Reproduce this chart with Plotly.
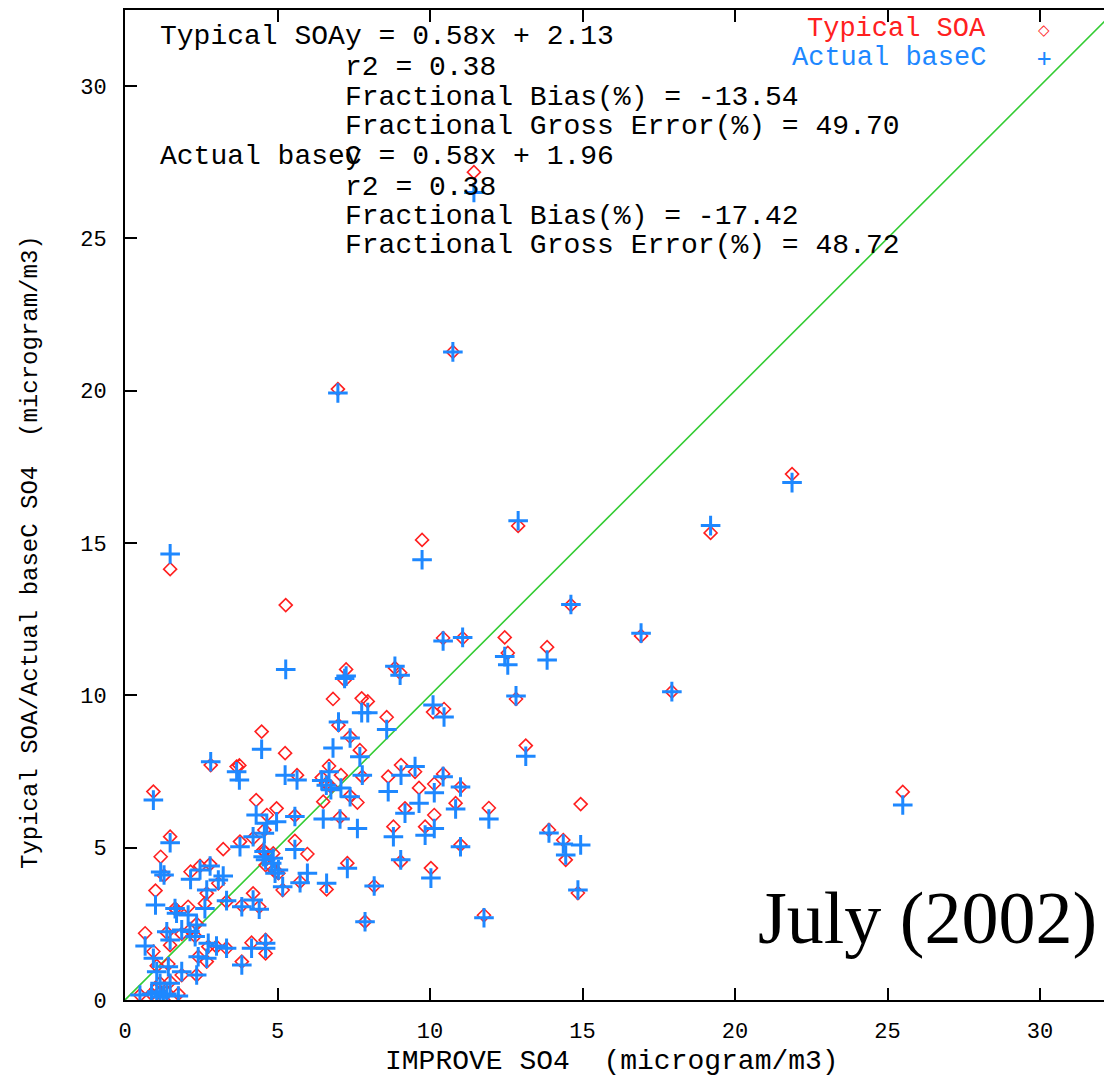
import plotly.graph_objects as go

# IMPROVE SO4 (x) and model values (Typical SOA = red, Actual baseC = blue)
improve_so4 = [11.44, 10.75, 6.98, 1.48, 5.27, 9.74, 12.89, 14.62, 10.43, 11.07,
               12.45, 12.55, 13.84, 21.87, 19.20, 16.92, 17.93, 25.50, 12.82, 13.14,
               10.43, 11.00, 10.14, 10.84, 11.93, 10.14, 11.00, 10.03, 11.77, 14.94,
               14.85, 13.90, 14.37, 14.45, 7.25, 7.20, 8.85, 9.02, 6.82, 7.76,
               7.96, 8.58, 10.10, 10.46, 5.25, 5.64, 7.70, 7.00, 7.38, 6.69,
               7.08, 7.78, 8.63, 9.05, 9.51, 9.64, 6.50, 7.62, 7.38, 7.05,
               5.57, 4.97, 9.18, 8.80, 9.84, 0.93, 2.81, 3.66, 3.75, 4.48,
               4.30, 4.65, 1.48, 4.20, 3.77, 3.22, 1.17, 1.28, 2.15, 2.46,
               2.79, 3.06, 4.56, 4.86, 4.61, 4.92, 5.17, 1.00, 2.68, 2.62,
               1.69, 2.07, 2.35, 3.33, 3.83, 4.20, 4.40, 0.66, 1.37, 1.48,
               1.86, 2.30, 2.73, 3.00, 3.33, 2.68, 2.40, 2.35, 4.15, 4.61,
               4.61, 3.83, 0.93, 1.04, 1.42, 1.86, 1.48, 1.15, 0.49, 0.87,
               1.04, 1.26, 1.37, 1.75, 1.15, 5.57, 5.98, 5.74, 6.61, 7.29,
               8.17, 7.87, 9.04, 5.03, 4.53, 4.81, 4.57, 6.45, 6.60, 6.75,
               1.64, 2.13]

typical_soa = [27.17, 21.27, 20.05, 14.14, 12.96, 15.10, 15.56, 12.96, 11.88, 11.88,
               11.90, 11.39, 11.58, 17.26, 15.33, 11.95, 10.12, 6.83, 9.88, 8.35,
               7.42, 6.99, 7.09, 6.46, 6.30, 6.07, 5.09, 4.33, 2.78, 6.43,
               3.51, 5.58, 5.25, 4.60, 10.85, 10.50, 10.90, 10.74, 9.88, 9.90,
               9.80, 9.28, 9.45, 9.55, 8.10, 7.38, 8.20, 9.02, 8.64, 7.68,
               7.38, 7.33, 7.33, 7.71, 7.49, 6.96, 6.51, 6.48, 6.70, 6.00,
               6.05, 6.29, 6.29, 5.69, 5.69, 6.84, 7.71, 7.66, 7.70, 8.81,
               6.56, 6.07, 5.36, 5.31, 5.20, 4.95, 4.70, 4.08, 4.21, 4.40,
               4.46, 3.83, 4.87, 4.81, 4.43, 4.21, 3.61, 3.59, 3.50, 3.17,
               2.95, 3.06, 2.50, 3.23, 3.10, 3.50, 3.06, 2.19, 2.21, 1.80,
               2.17, 2.10, 1.75, 1.75, 1.70, 1.26, 1.42, 0.82, 1.88, 1.97,
               1.53, 1.26, 1.59, 1.12, 1.18, 0.82, 0.60, 0.55, 0.16, 0.20,
               0.38, 0.00, 0.25, 0.20, 0.27, 5.22, 4.79, 3.88, 3.63, 4.49,
               3.74, 2.57, 4.54, 4.16, 4.92, 4.37, 5.58, 7.30, 7.10, 7.00,
               3.00, 2.30]

actual_basec = [26.50, 21.27, 19.92, 14.64, 10.85, 14.45, 15.73, 12.98, 11.78, 11.90,
                11.27, 11.00, 11.16, 16.98, 15.57, 12.04, 10.12, 6.40, 9.98, 8.00,
                7.33, 6.99, 6.80, 6.27, 5.94, 5.63, 5.03, 4.00, 2.70, 5.09,
                3.61, 5.48, 5.12, 4.76, 10.63, 10.55, 10.95, 10.66, 8.27, 9.43,
                9.43, 8.88, 9.68, 9.29, 7.38, 7.22, 7.98, 9.12, 8.60, 7.49,
                6.96, 7.38, 6.84, 7.38, 7.66, 6.46, 5.94, 5.63, 6.67, 5.94,
                6.02, 5.85, 6.13, 5.36, 5.41, 6.56, 7.82, 7.49, 7.22, 8.23,
                6.07, 5.80, 5.16, 5.36, 5.03, 4.07, 4.20, 4.10, 3.96, 4.27,
                4.40, 3.94, 4.87, 4.65, 4.60, 4.16, 3.72, 3.12, 3.61, 3.00,
                2.85, 2.79, 2.46, 3.26, 3.06, 3.28, 2.98, 1.77, 2.24, 1.97,
                2.30, 2.08, 1.86, 1.77, 1.70, 1.37, 1.42, 0.82, 1.70, 1.86,
                1.70, 1.15, 1.37, 0.93, 1.09, 0.93, 0.55, 0.55, 0.16, 0.20,
                0.27, 0.16, 0.20, 0.13, 0.10, 4.94, 4.16, 3.85, 3.83, 4.32,
                3.74, 2.57, 4.60, 4.27, 4.70, 4.49, 5.47, 7.20, 7.05, 6.90,
                3.00, 2.25]

one_to_one = [0, 40]

x_ticks = [0, 5, 10, 15, 20, 25, 30]
y_ticks = [0, 5, 10, 15, 20, 25, 30]

stats_typical = ["y = 0.58x + 2.13", "r2 = 0.38",
                 "Fractional Bias(%) = -13.54", "Fractional Gross Error(%) = 49.70"]
stats_actual = ["y = 0.58x + 1.96", "r2 = 0.38",
                "Fractional Bias(%) = -17.42", "Fractional Gross Error(%) = 48.72"]

RED = "#ff2020"
BLUE = "#1e88ff"
GREEN = "#33cc33"
MONO = "Liberation Mono, Courier New, monospace"

fig = go.Figure()
fig.add_trace(go.Scatter(x=one_to_one, y=one_to_one, mode="lines",
                         line=dict(color=GREEN, width=1.6), showlegend=False,
                         hoverinfo="skip"))
fig.add_trace(go.Scatter(x=improve_so4, y=typical_soa, mode="markers", name="Typical SOA",
                         marker=dict(symbol="diamond-open", size=10, color=RED,
                                     line=dict(color=RED, width=1.6)),
                         showlegend=False))
fig.add_trace(go.Scatter(x=improve_so4, y=actual_basec, mode="markers", name="Actual baseC",
                         marker=dict(symbol="cross-thin-open", size=14, color=BLUE,
                                     line=dict(color=BLUE, width=3)),
                         showlegend=False))

W, H = 1104, 1079
L, R, T, B = 125, 0, 10, 79
pw, ph = W - L - R, H - T - B
px_per_x = 30.5
px_per_y = 30.47


def px(xp):
    return (xp - L) / pw


def py(yp):
    return (H - B - yp) / ph


def note(text, xp, yp, xanchor="left", size=28, color="black", family=MONO, angle=0):
    return dict(text=text, x=px(xp), y=py(yp), xanchor=xanchor, yanchor="middle",
                showarrow=False, xref="paper", yref="paper", textangle=angle,
                font=dict(family=family, size=size, color=color))


annotations = [note("Typical SOA", 158, 37), note("Actual baseC", 158, 157)]
for yp, s in zip([37, 67, 97, 127], stats_typical):
    annotations.append(note(s, 343, yp))
for yp, s in zip([157, 187, 216, 246], stats_actual):
    annotations.append(note(s, 343, yp))

# legend (text left of symbol)
annotations.append(note("Typical SOA", 988, 29, xanchor="right", size=27, color=RED))
annotations.append(note("Actual baseC", 988, 58, xanchor="right", size=27, color=BLUE))
annotations.append(note("◇", 1044, 30, xanchor="center", size=15, color=RED, family="DejaVu Sans"))
annotations.append(note("+", 1044, 58, xanchor="center", size=24, color=BLUE,
                        family="DejaVu Sans Mono"))

# axis titles
annotations.append(note("IMPROVE SO4  (microgram/m3)", 612, 1061, xanchor="center"))
annotations.append(note("Typical SOA/Actual baseC SO4  (microgram/m3)", 30, 552,
                        xanchor="center", size=24, angle=-90))

annotations.append(note("July (2002)", 1099, 918, xanchor="right", size=74,
                        family="Liberation Serif, Times New Roman, serif"))

fig.update_layout(
    width=W, height=H,
    margin=dict(l=L, r=R, t=T, b=B, pad=0),
    paper_bgcolor="white", plot_bgcolor="white",
    annotations=annotations,
    showlegend=False,
)
fig.update_xaxes(range=[0, pw / px_per_x], tickmode="array", tickvals=x_ticks,
                 ticktext=[str(v) for v in x_ticks],
                 showgrid=False, zeroline=False, showline=True, linecolor="black", linewidth=2,
                 ticks="inside", ticklen=12, tickwidth=2, tickcolor="black", mirror="allticks",
                 ticklabelstandoff=10,
                 tickfont=dict(family=MONO, size=22, color="black"))
fig.update_yaxes(range=[0, ph / px_per_y], tickmode="array", tickvals=y_ticks,
                 ticktext=[str(v) for v in y_ticks],
                 showgrid=False, zeroline=False, showline=True, linecolor="black", linewidth=2,
                 ticks="inside", ticklen=12, tickwidth=2, tickcolor="black", mirror=False,
                 ticklabelstandoff=12,
                 tickfont=dict(family=MONO, size=22, color="black"))

fig.write_html("out.html")
